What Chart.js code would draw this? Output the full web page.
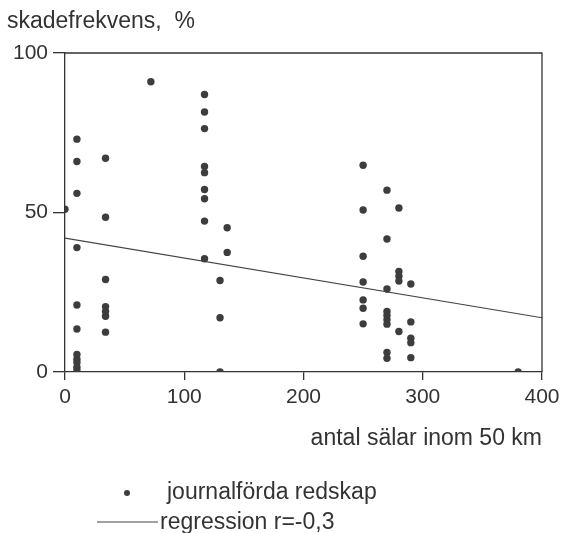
<!DOCTYPE html>
<html>
<head>
<meta charset="utf-8">
<script src="https://cdn.jsdelivr.net/npm/chart.js@4.4.1/dist/chart.umd.min.js"></script>
<style>
  html, body { margin: 0; padding: 0; background: #fff; }
  canvas { display: block; }
</style>
</head>
<body>
<canvas id="chart" width="561" height="533"></canvas>
<script>
// antal sälar inom 50 km (x) och skadefrekvens i % (y), en punkt per journalfört redskap
var sealCount = [
    0,
    10, 10, 10, 10, 10, 10, 10, 10, 10, 10, 10,
    34, 34, 34, 34, 34, 34, 34,
    72,
    117, 117, 117, 117, 117, 117, 117, 117, 117,
    130, 130, 130,
    136, 136,
    250, 250, 250, 250, 250, 250, 250,
    270, 270, 270, 270, 270, 270, 270, 270, 270,
    280, 280, 280, 280, 280,
    290, 290, 290, 290, 290,
    380
];
var damageRate = [
    51,
    73, 66, 56, 39, 21, 13.5, 5.5, 4, 3, 1.5, 0.5,
    67, 48.5, 29, 20.5, 19, 17.5, 12.5,
    91,
    87, 81.5, 76.3, 64.4, 62.5, 57.2, 54.3, 47.3, 35.5,
    28.7, 17, 0,
    45.2, 37.5,
    64.8, 50.8, 36.3, 28.2, 22.6, 20, 15.1,
    57, 41.7, 26, 19, 17.7, 16.4, 15, 6.1, 4.3,
    51.4, 31.5, 30, 28.5, 12.7,
    27.6, 15.7, 10.6, 9.2, 4.5,
    0
];
// regressionslinjens ändpunkter
var regX = [0, 400];
var regY = [42, 17];

var xTicks = [0, 100, 200, 300, 400];
var yTicks = [0, 50, 100];

var yTitle = 'skadefrekvens,  %';
var xTitle = 'antal sälar inom 50 km';
var pointLabel = 'journalförda redskap';
var lineLabel = 'regression r=-0,3';

var ink = '#333333';
var dotColor = '#3d3d3d';
var fontFamily = "'Liberation Sans', Arial, Helvetica, sans-serif";

var points = [];
for (var i = 0; i < sealCount.length; i++) {
    points.push({x: sealCount[i], y: damageRate[i]});
}
var regLine = [];
for (var j = 0; j < regX.length; j++) {
    regLine.push({x: regX[j], y: regY[j]});
}

// ram runt ritytan, y-rubrik och förklaring
var framePlugin = {
    id: 'frame',
    afterDraw: function(chart) {
        var ctx = chart.ctx;
        var a = chart.chartArea;
        ctx.save();
        ctx.strokeStyle = ink;
        ctx.lineWidth = 1.3;
        ctx.beginPath();
        ctx.moveTo(a.left, a.top);
        ctx.lineTo(a.right, a.top);
        ctx.lineTo(a.right, a.bottom);
        ctx.stroke();

        ctx.fillStyle = ink;
        ctx.font = '23px ' + fontFamily;
        ctx.textAlign = 'left';
        ctx.textBaseline = 'alphabetic';
        ctx.fillText(yTitle, 7, 28);

        var ds = chart.data.datasets;
        // punktrad
        ctx.beginPath();
        ctx.arc(127, 493, 3, 0, Math.PI * 2);
        ctx.fillStyle = ds[0].backgroundColor;
        ctx.fill();
        ctx.fillStyle = ink;
        ctx.fillText(ds[0].label, 167, 499);
        // linjerad
        ctx.beginPath();
        ctx.moveTo(97, 522);
        ctx.lineTo(158, 522);
        ctx.strokeStyle = ds[1].borderColor;
        ctx.lineWidth = 1.2;
        ctx.stroke();
        ctx.fillText(ds[1].label, 160, 529);
        ctx.restore();
    }
};

var ctx = document.getElementById('chart').getContext('2d');
var chart = new Chart(ctx, {
    type: 'scatter',
    data: {
        datasets: [{
            label: pointLabel,
            data: points,
            backgroundColor: dotColor,
            borderColor: dotColor,
            borderWidth: 0,
            pointRadius: 3.7
        }, {
            label: lineLabel,
            type: 'line',
            data: regLine,
            showLine: true,
            borderColor: '#444444',
            borderWidth: 1.2,
            pointRadius: 0,
            fill: false
        }]
    },
    plugins: [framePlugin],
    options: {
        responsive: false,
        animation: false,
        devicePixelRatio: 1,
        layout: {
            padding: {left: 0, top: 53, right: 19, bottom: 81}
        },
        plugins: {
            legend: {display: false},
            title: {display: false},
            tooltip: {enabled: false}
        },
        scales: {
            x: {
                type: 'linear',
                min: 0,
                max: 400,
                afterBuildTicks: function(scale) {
                    scale.ticks = xTicks.map(function(v) { return {value: v}; });
                },
                afterFit: function(scale) {
                    scale.height = 80;
                    scale.paddingLeft = 0;
                    scale.paddingRight = 0;
                },
                border: {display: true, color: ink, width: 1.3},
                grid: {drawOnChartArea: false, drawTicks: true, tickLength: 8, color: ink, lineWidth: 1.3},
                ticks: {color: ink, padding: 5, maxRotation: 0, font: {family: fontFamily, size: 21}},
                title: {
                    display: true,
                    text: xTitle,
                    align: 'end',
                    color: ink,
                    padding: 0,
                    font: {family: fontFamily, size: 23, lineHeight: 1.2}
                }
            },
            y: {
                type: 'linear',
                min: 0,
                max: 100,
                afterBuildTicks: function(scale) {
                    scale.ticks = yTicks.map(function(v) { return {value: v}; });
                },
                afterFit: function(scale) {
                    scale.width = 65;
                    scale.paddingTop = 0;
                    scale.paddingBottom = 0;
                },
                border: {display: true, color: ink, width: 1.3},
                grid: {drawOnChartArea: false, drawTicks: true, tickLength: 12, color: ink, lineWidth: 1.3},
                ticks: {color: ink, padding: 5, font: {family: fontFamily, size: 21}}
            }
        }
    }
});
</script>
</body>
</html>
